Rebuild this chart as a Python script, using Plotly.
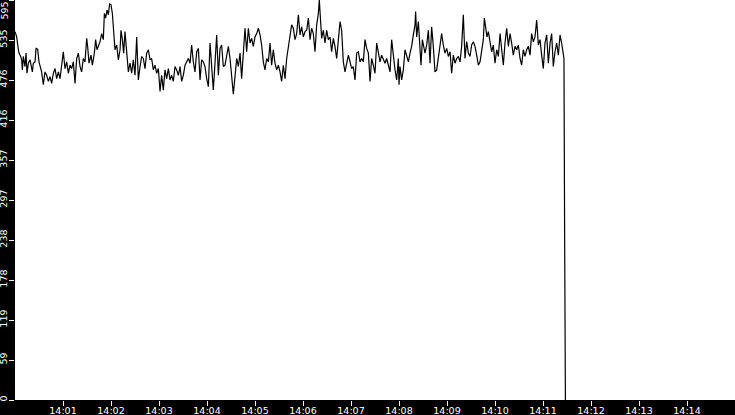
import pandas as pd
import plotly.graph_objects as go

start = "2024-01-01 14:00:00"
end = "2024-01-01 14:15:00"

secs = [0, 2.1, 4.2, 5, 7.1, 8.3, 9.2, 10.4, 12.5, 13.8, 15, 16.7, 18.8, 20, 21.7, 22.9, 25, 26.3, 28.3, 30,
        31.3, 33.3, 35.4, 37.5, 39.6, 41.7, 43.8, 45.8, 47.9, 50, 52.1, 54.2, 56.3, 58.3, 60.4, 62.5, 64.6, 66.7, 68.8, 70.8,
        72.9, 75, 77.1, 79.2, 81.3, 83.3, 85.4, 87.5, 89.6, 90.8, 92.5, 95, 96.7, 99.2, 100.8, 102.5, 104.2, 106.3, 108.3, 110.4,
        111.7, 113.3, 115, 116.7, 118.3, 120, 121.7, 123.3, 125, 127.1, 129.2, 131.3, 132.5, 134.2, 135.8, 137.5, 139.6, 141.7, 143.8, 145.8,
        147.9, 150, 152.1, 154.2, 156.3, 158.3, 160.4, 162.5, 164.6, 166.7, 168.8, 170.8, 172.9, 175, 177.1, 179.2, 181.3, 183.3, 185.4, 187.5,
        189.6, 191.7, 193.8, 195.8, 197.9, 200, 202.1, 204.2, 206.3, 208.3, 210.4, 212.5, 214.6, 216.7, 218.8, 220.8, 222.9, 225, 227.1, 229.2,
        231.3, 233.3, 235.4, 237.5, 239.6, 241.7, 243.8, 245.8, 247.9, 250, 252.1, 254.2, 256.3, 258.3, 260.4, 262.5, 264.6, 266.7, 268.8, 270.8,
        272.9, 275, 277.1, 279.2, 281.3, 283.3, 285.4, 287.5, 289.6, 291.7, 293.8, 295.8, 297.9, 300, 302.1, 304.2, 306.3, 308.3, 310.4, 312.5,
        314.6, 316.7, 318.8, 320.8, 322.9, 325, 327.1, 329.2, 331.3, 333.3, 335.4, 337.5, 339.6, 341.7, 343.8, 345.8, 347.9, 350, 352.1, 354.2,
        356.3, 358.3, 360.4, 362.5, 364.6, 366.7, 368.8, 370.8, 372.9, 375, 377.1, 379.2, 380.4, 382.1, 383.3, 385.4, 387.5, 389.6, 391.7, 393.8,
        395.8, 397.9, 400, 402.1, 404.2, 406.3, 408.3, 410.4, 412.5, 414.6, 416.7, 418.8, 420.8, 422.9, 425, 427.1, 429.2, 431.3, 433.3, 435.4,
        437.5, 439.6, 441.7, 443.8, 445.8, 447.9, 450, 452.1, 454.2, 456.3, 458.3, 460.4, 462.5, 464.6, 466.7, 468.8, 470.8, 472.9, 475, 477.1,
        479.2, 480, 481.3, 483.3, 485.4, 487.5, 489.6, 491.7, 493.8, 495.8, 497.9, 500, 500.8, 502.1, 504.2, 505.4, 507.5, 509.2, 510.8, 512.5,
        514.6, 516.7, 518.8, 520.8, 522.9, 525, 527.1, 529.2, 531.3, 533.3, 535.4, 537.5, 539.6, 541.7, 543.8, 545.8, 547.9, 550, 552.1, 554.2,
        556.3, 558.3, 560.4, 562.5, 564.6, 566.7, 568.8, 570.8, 572.9, 575, 577.1, 579.2, 581.3, 583.3, 585.4, 586.7, 588.3, 590, 591.7, 593.8,
        595.8, 597.9, 600, 602.1, 604.2, 606.3, 608.3, 610.4, 612.5, 614.6, 616.7, 618.8, 620.8, 622.9, 625, 627.1, 629.2, 631.3, 633.3, 635.4,
        637.5, 639.6, 641.7, 643.8, 645.8, 647.9, 650, 652.1, 654.2, 656.3, 658.3, 660.4, 662.5, 664.6, 666.7, 668.8, 670.8, 672.9, 675, 677.1,
        679.2, 681.3, 683.3, 685.4, 686.2, 687, 688]

vals = [548, 540, 521, 516, 511, 506, 491, 511, 496, 516, 486, 501, 506, 498, 488, 501, 503, 523, 522, 503,
        496, 488, 469, 488, 483, 474, 481, 471, 486, 493, 478, 488, 478, 496, 518, 493, 503, 486, 498, 493,
        503, 471, 508, 516, 496, 488, 508, 503, 538, 526, 501, 513, 498, 516, 536, 521, 526, 533, 545, 536,
        575, 568, 580, 573, 589, 588, 575, 545, 521, 528, 506, 521, 550, 536, 516, 548, 521, 488, 501, 486,
        506, 483, 540, 476, 496, 511, 508, 493, 516, 521, 506, 508, 491, 498, 486, 493, 459, 483, 461, 491,
        478, 493, 476, 483, 474, 496, 491, 483, 496, 474, 483, 498, 503, 508, 501, 528, 503, 488, 518, 523,
        476, 506, 503, 496, 478, 466, 531, 488, 461, 501, 543, 483, 523, 528, 496, 498, 513, 526, 508, 483,
        455, 481, 508, 496, 516, 478, 516, 553, 518, 553, 531, 538, 526, 540, 545, 553, 543, 528, 503, 491,
        508, 503, 531, 498, 521, 501, 491, 498, 488, 474, 498, 478, 508, 523, 540, 558, 553, 536, 545, 573,
        543, 555, 540, 548, 550, 568, 536, 553, 545, 518, 558, 575, 595, 565, 538, 550, 531, 550, 536, 540,
        518, 538, 526, 508, 540, 563, 550, 503, 488, 501, 513, 503, 493, 496, 476, 516, 518, 503, 508, 503,
        536, 523, 516, 474, 508, 498, 486, 531, 516, 503, 513, 506, 501, 508, 496, 488, 536, 511, 491, 476,
        508, 469, 496, 476, 491, 521, 513, 503, 516, 526, 543, 558, 578, 540, 563, 531, 498, 536, 523, 516,
        528, 550, 501, 555, 526, 488, 491, 508, 526, 545, 528, 516, 523, 511, 518, 486, 513, 501, 508, 511,
        503, 526, 573, 508, 533, 516, 511, 528, 533, 526, 513, 498, 503, 521, 536, 568, 553, 540, 548, 531,
        518, 528, 501, 521, 511, 545, 526, 498, 531, 553, 526, 545, 531, 513, 526, 521, 528, 508, 498, 521,
        511, 521, 526, 513, 545, 533, 540, 565, 528, 536, 513, 493, 531, 543, 501, 531, 545, 496, 518, 531,
        513, 543, 531, 511, 508, 257, 0]

y_tick_vals = [0, 59.5, 119, 178.5, 238, 297.5, 357, 416.5, 476, 535.5, 595]
y_tick_text = ["0", "59", "119", "178", "238", "297", "357", "416", "476", "535", "595"]
x_tick_labels = ["14:01", "14:02", "14:03", "14:04", "14:05", "14:06", "14:07",
                 "14:08", "14:09", "14:10", "14:11", "14:12", "14:13", "14:14"]

t0 = pd.Timestamp(start)
times = [t0 + pd.Timedelta(seconds=s) for s in secs]
x_tick_vals = [pd.Timestamp("2024-01-01 " + lab) for lab in x_tick_labels]

fig = go.Figure(go.Scatter(x=times, y=vals, mode="lines",
                           line=dict(color="black", width=1.2), hoverinfo="skip"))

font = dict(family="DejaVu Sans", size=9.5, color="white")
# top label drawn as annotation so it stays inside the page (the tick sits on the top edge)
axis_text = y_tick_text[:-1] + [""]
fig.add_annotation(text=y_tick_text[-1], x=0, xref="paper", y=y_tick_vals[-1], yref="y",
                   xanchor="right", yanchor="top", xshift=-5, yshift=-1, textangle=-90,
                   showarrow=False, font=font, borderpad=0)

fig.update_layout(
    width=735, height=415,
    margin=dict(l=15, r=0, t=0, b=15, pad=0, autoexpand=False),
    paper_bgcolor="black", plot_bgcolor="white",
    showlegend=False,
    xaxis=dict(type="date", range=[start, end], tickvals=x_tick_vals, ticktext=x_tick_labels,
               ticks="outside", ticklen=5, tickwidth=1, tickcolor="white", tickfont=font,
               ticklabelstandoff=-3, automargin=False,
               showgrid=False, zeroline=False, showline=False, fixedrange=True),
    yaxis=dict(range=[0, 595], tickvals=y_tick_vals, ticktext=axis_text, tickangle=-90,
               ticks="outside", ticklen=5, tickwidth=1, tickcolor="white", tickfont=font,
               ticklabelstandoff=-2, automargin=False,
               showgrid=False, zeroline=False, showline=False, fixedrange=True),
)

fig.write_html("out.html", config={"displayModeBar": False},
               post_script="document.body.style.margin='0';document.body.style.overflow='hidden';")
